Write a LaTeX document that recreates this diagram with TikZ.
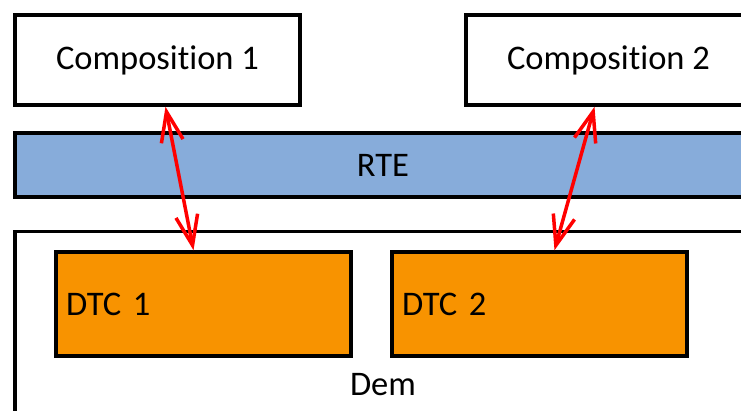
\documentclass[tikz,border=0pt]{standalone}
\usepackage{fontspec}
\setmainfont{Carlito}[Ligatures=NoCommon]
\usetikzlibrary{arrows.meta}
\definecolor{rteblue}{HTML}{87ACDA}
\definecolor{dtcorange}{HTML}{F89300}
\begin{document}
\begin{tikzpicture}
[
 x=1pt, y=-1pt,
 every node/.style ={font=\fontsize{34.5}{40}\selectfont},
 inner sep=0pt,
 COMPBOX/.style={rectangle, draw=black, fill=white, line width=3.5pt, minimum width=285pt, minimum height=90pt},
 RTEBAR/.style={rectangle, draw=black, fill=rteblue, line width=3.5pt, minimum width=736pt, minimum height=64pt},
 DEMBOX/.style={rectangle, draw=black, fill=white, line width=3.5pt, minimum width=736pt, minimum height=200pt},
 DTCBOX/.style={rectangle, draw=black, fill=dtcorange, line width=3.5pt, minimum height=104pt, text width=275pt, inner xsep=10pt, align=left},
 LINK/.style={draw=red, line width=3.5pt, line cap=round, {Straight Barb[length=30pt,width=22pt]}-{Straight Barb[length=30pt,width=22pt]}},
 ]
%
\useasboundingbox (0,0) rectangle (741,410);
\clip (0,0) rectangle (741,410);
%
\node [COMPBOX]  (comp1)  at (157.5, 60)  {Composition 1};
\node [COMPBOX]  (comp2)  at (608.5, 60)  {Composition 2};
%
\node [RTEBAR]   (rte)    at (383, 165)   {RTE};
%
\node [DEMBOX]   (dem)    at (383, 331.5) {};
\node            (demlbl) at (383, 385)   {Dem};
%
\node [DTCBOX]   (dtc1)   at (203.5, 304) {DTC 1};
\node [DTCBOX]   (dtc2)   at (539.5, 304) {DTC 2};
%
\draw [LINK]  ([xshift=8pt]comp1.south)   -- ([xshift=-10pt]dtc1.north) ;
\draw [LINK]  ([xshift=-14pt]comp2.south) -- ([xshift=15pt]dtc2.north) ;
%
\end{tikzpicture}
\end{document}
